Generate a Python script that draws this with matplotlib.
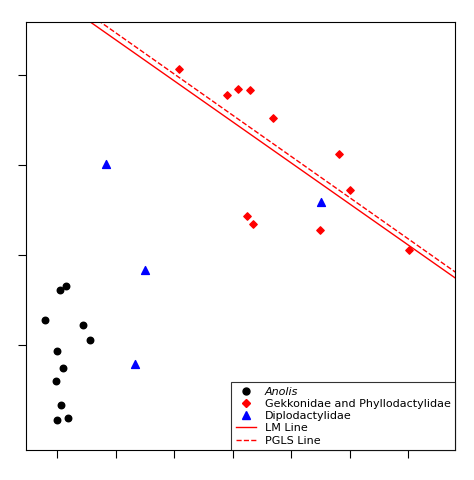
import matplotlib.pyplot as plt
import numpy as np
from matplotlib.lines import Line2D

# data
anolis_x = [-0.21, 0.05, 0.15, 0.44, 0.56, 0.0, 0.10, -0.02, 0.07, 0.19, 0.0]
anolis_y = [1.28, 1.61, 1.66, 1.22, 1.06, 0.93, 0.74, 0.60, 0.33, 0.19, 0.17]
gekko_x = [2.09, 2.91, 3.09, 3.30, 3.69, 4.82, 5.01, 3.25, 3.35, 4.50, 6.02]
gekko_y = [4.06, 3.78, 3.84, 3.83, 3.52, 3.12, 2.72, 2.43, 2.34, 2.28, 2.06]
diplo_x = [0.84, 1.50, 1.33, 4.51]
diplo_y = [3.01, 1.83, 0.79, 2.59]
lm_coef = (4.846, -0.456)     # intercept, slope
pgls_coef = (4.926, -0.458)

fig = plt.figure(figsize=(4.74, 4.80), dpi=100)
ax = fig.add_axes([0.055, 0.0625, 0.905, 0.892])

ax.scatter(anolis_x, anolis_y, marker="o", color="black", s=22, zorder=3)
ax.scatter(gekko_x, gekko_y, marker="D", color="red", s=14, zorder=3)
ax.scatter(diplo_x, diplo_y, marker="^", color="blue", s=32, zorder=3)

xs = np.array([-0.6, 7.0])
ax.plot(xs, lm_coef[0] + lm_coef[1] * xs, color="red", lw=1)
ax.plot(xs, pgls_coef[0] + pgls_coef[1] * xs, color="red", lw=1, ls="--")

ax.set_xlim(-0.53, 6.80)
ax.set_ylim(-0.167, 4.589)
ax.set_xticks(range(0, 7))
ax.set_yticks(range(1, 5))
ax.set_xticklabels([])
ax.set_yticklabels([])
ax.tick_params(direction="out", length=6, color="black")

handles = [
    Line2D([], [], marker="o", color="black", ls="", ms=5),
    Line2D([], [], marker="D", color="red", ls="", ms=4),
    Line2D([], [], marker="^", color="blue", ls="", ms=6),
    Line2D([], [], color="red", lw=1),
    Line2D([], [], color="red", lw=1, ls="--"),
]
labels = ["Anolis", "Gekkonidae and Phyllodactylidae", "Diplodactylidae",
          "LM Line", "PGLS Line"]
leg = ax.legend(handles, labels, loc="lower right", fancybox=False,
                edgecolor="black", fontsize=8, borderaxespad=0,
                handlelength=1.8, labelspacing=0.2)
leg.get_frame().set_linewidth(0.8)
leg.get_texts()[0].set_style("italic")

fig.savefig("out.png")
